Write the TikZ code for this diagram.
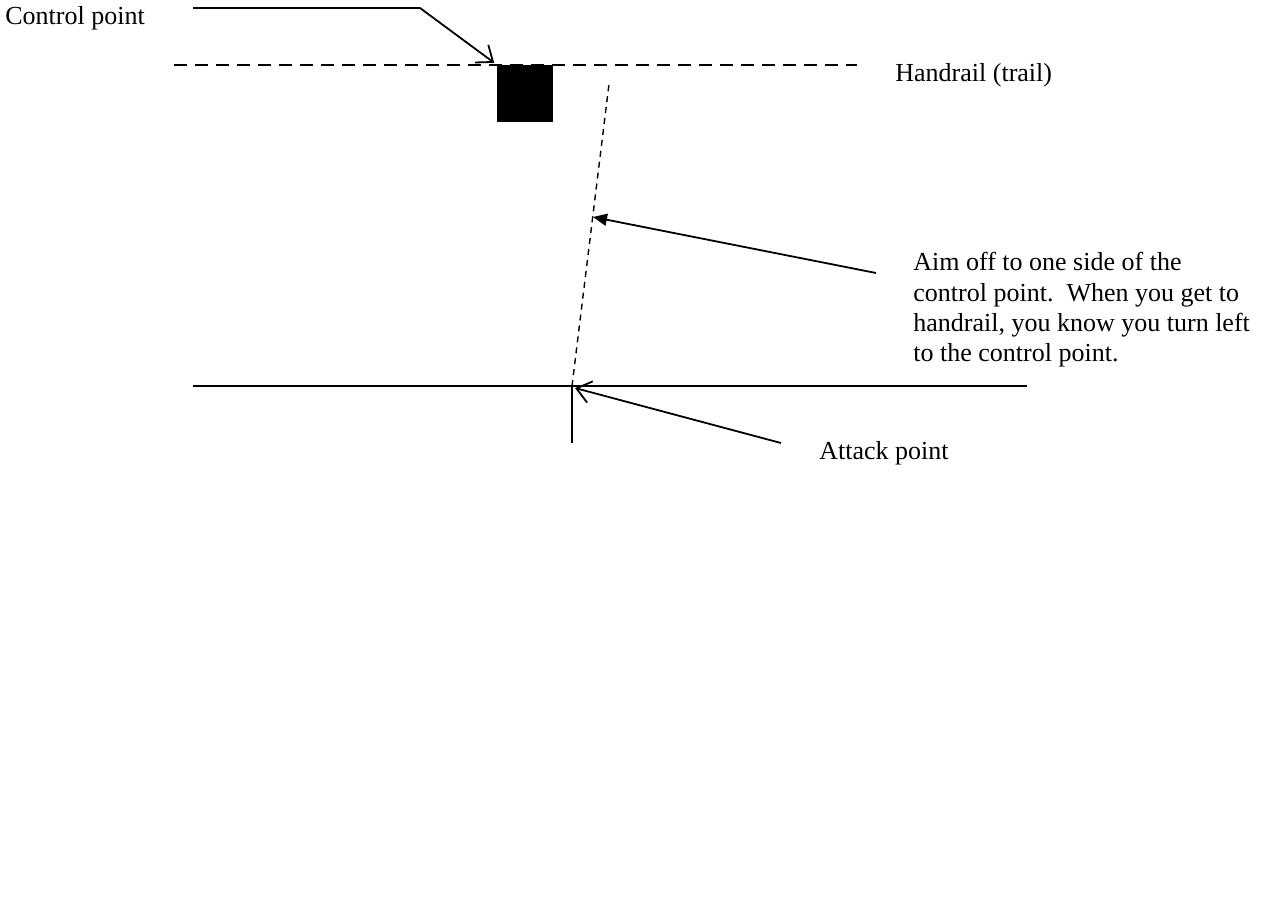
\documentclass[tikz,border=0pt]{standalone}
\usepackage{fontspec}
\setmainfont{Liberation Serif}
\usetikzlibrary{arrows.meta}
\tikzset{>=Stealth}
\tikzset{
  words/.style={inner sep=0pt, font=\fontsize{13}{15.2}\selectfont},
  lead/.style={line width=0.9pt},
  trail/.style={line width=0.9pt, dash pattern=on 6.5pt off 4pt},
  route/.style={line width=0.7pt, dash pattern=on 3pt off 2.5pt},
  openhead/.style={-{Straight Barb[length=7pt,width=11pt]}},
  filledhead/.style={-{Triangle[length=7pt,width=6pt]}}
}

\begin{document}
\begin{tikzpicture}[x=0.5pt,y=-0.5pt]
    \useasboundingbox (0,0) rectangle (1270,922);
    % labels
    \node[words, anchor=base west] (cplabel) at (5,24) {Control point};
    \node[words, anchor=base west] (hrlabel) at (895,81) {Handrail (trail)};
    \node[words, anchor=north west, align=left] (aim) at (913,252)
        {Aim off to one side of the\\control point.\ \ When you get to\\handrail, you know you turn left\\to the control point.};
    \node[words, anchor=base west] (aplabel) at (819,459) {Attack point};
    % control flag
    \node[fill=black, inner sep=0pt, minimum width=28pt, minimum height=28.5pt] (control) at (525,93.5) {};
    % handrail and catching feature
    \draw[trail] (174,65) -- (857,65);
    \draw[lead] (193,386) -- (1027,386);
    \coordinate (attack) at (572,386);
    \draw[lead] (attack) -- (572,443);
    % leg towards the handrail
    \coordinate (aimend) at (609,84);
    \draw[route] (attack) -- (aimend);
    \coordinate (aimtip) at (593,217);
    % pointers
    \draw[lead, openhead, shorten >=1.5pt] (193,8) -- (420,8) -- (control.north west);
    \draw[lead, filledhead] (876,273) -- (aimtip);
    \draw[lead, openhead] (781,443) -- (575,388);
\end{tikzpicture}
\end{document}
